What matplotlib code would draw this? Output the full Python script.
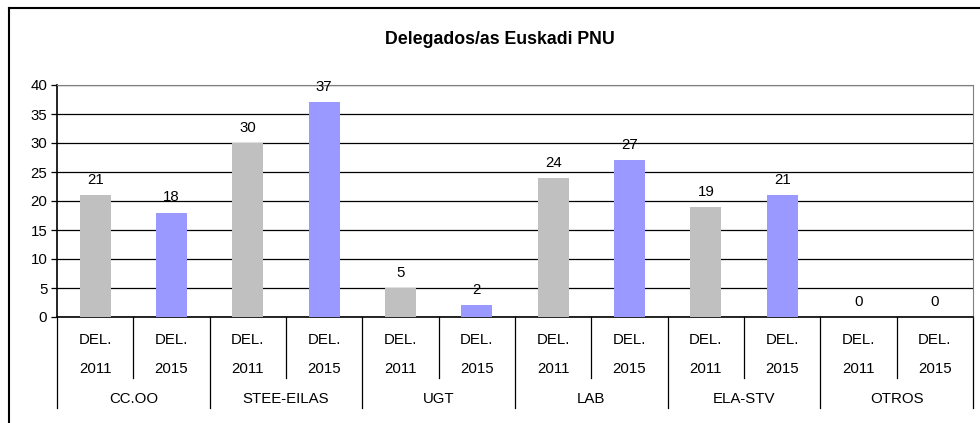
import matplotlib.pyplot as plt
from matplotlib.lines import Line2D

plt.rcParams['font.family'] = ['Liberation Sans', 'DejaVu Sans']

groups = ["CC.OO", "STEE-EILAS", "UGT", "LAB", "ELA-STV", "OTROS"]
years = ["2011", "2015"]
del_2011 = [21, 30, 5, 24, 19, 0]
del_2015 = [18, 37, 2, 27, 21, 0]
colors = {"2011": "#C0C0C0", "2015": "#9999FF"}

fs = 10.8

fig = plt.figure(figsize=(9.8, 4.23), dpi=100)
ax = fig.add_axes([57 / 980, 1 - 317 / 423, 916 / 980, 232 / 423])

values = []
bar_colors = []
for a, b in zip(del_2011, del_2015):
    values += [a, b]
    bar_colors += [colors["2011"], colors["2015"]]
xs = list(range(len(values)))

ax.set_axisbelow(True)
ax.yaxis.grid(True, color="black", linewidth=0.9)
ax.bar(xs, values, width=0.41, color=bar_colors, zorder=3)
for x, v in zip(xs, values):
    ax.annotate(str(v), (x, v), xytext=(0, 11), textcoords="offset points",
                ha="center", va="center", fontsize=fs)

ax.set_xlim(-0.5, len(values) - 0.5)
ax.set_ylim(0, 40)
ax.set_yticks(range(0, 41, 5))
ax.tick_params(axis="y", labelsize=fs, length=4, width=0.9, direction="out", pad=3)
ax.set_xticks([])
for s in ["top", "right"]:
    ax.spines[s].set_color("#808080")
for s in ["left", "bottom"]:
    ax.spines[s].set_color("black")
    ax.spines[s].set_linewidth(1.2)

# multi-level category table below the axis
def fy(px):
    return (317 - px) / 232

tr = ax.get_xaxis_transform()
for i in range(len(values) + 1):
    x = i - 0.5
    bottom = fy(408) if i % 2 == 0 else fy(378)
    ax.add_line(Line2D([x, x], [0, bottom], transform=tr, color="black",
                       linewidth=0.9, clip_on=False))
for x in xs:
    yr = years[x % 2]
    ax.text(x, fy(340), "DEL.", transform=tr, ha="center", va="center", fontsize=fs)
    ax.text(x, fy(369), yr, transform=tr, ha="center", va="center", fontsize=fs)
for g, name in enumerate(groups):
    ax.text(2 * g + 0.5, fy(399), name, transform=tr, ha="center", va="center", fontsize=fs)

# outer chart border (top and left only visible)
fig.add_artist(Line2D([9 / 980, 1], [1 - 8 / 423, 1 - 8 / 423], color="black", linewidth=1.5))
fig.add_artist(Line2D([9 / 980, 9 / 980], [0, 1 - 8 / 423], color="black", linewidth=1.5))

fig.text(500 / 980, 1 - 39 / 423, "Delegados/as Euskadi PNU", ha="center", va="center",
         fontsize=12.8, fontweight="bold")

fig.savefig("out.png", dpi=100)
